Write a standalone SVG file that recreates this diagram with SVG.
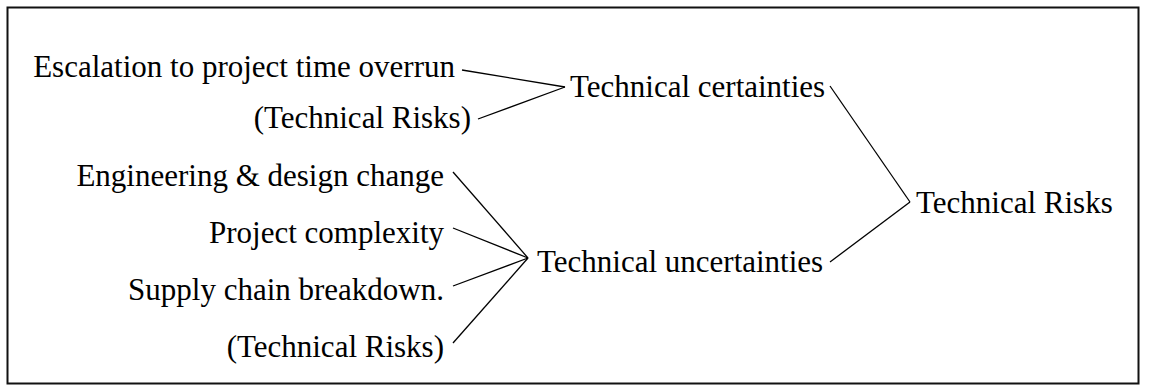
<svg xmlns="http://www.w3.org/2000/svg" width="1156" height="392" viewBox="0 0 1156 392">
  <style>
    text { font-family: 'Liberation Serif', 'Times New Roman', 'DejaVu Serif', serif; font-size: 31px; fill: #000; }
    .end { text-anchor: end; }
    .conn line { stroke: #000; stroke-width: 1.3; fill: none; }
  </style>
  <rect x="0" y="0" width="1156" height="392" fill="#fff"/>
  <!-- frame -->
  <rect x="7.5" y="7.5" width="1131" height="376" fill="none" stroke="#111" stroke-width="2"/>

  <!-- connectors -->
  <g id="connectors" class="conn">
    <line x1="462" y1="70" x2="565" y2="87"/>
    <line x1="478" y1="119" x2="565" y2="87"/>
    <line x1="453" y1="172" x2="528" y2="258"/>
    <line x1="453" y1="228" x2="528" y2="258"/>
    <line x1="453" y1="286" x2="528" y2="258"/>
    <line x1="453" y1="343" x2="528" y2="258"/>
    <line x1="830" y1="86" x2="910" y2="202"/>
    <line x1="830" y1="262" x2="910" y2="202"/>
  </g>

  <g id="escalation"><text class="end" x="455" y="77" font-family="Liberation Serif">Escalation to project time overrun</text></g>
  <g id="risks-certain"><text class="end" x="471" y="128" font-family="Liberation Serif">(Technical Risks)</text></g>
  <g id="engineering"><text class="end" x="444" y="186" font-family="Liberation Serif">Engineering &amp; design change</text></g>
  <g id="complexity"><text class="end" x="444" y="243" font-family="Liberation Serif">Project complexity</text></g>
  <g id="supply"><text class="end" x="444" y="300" font-family="Liberation Serif">Supply chain breakdown.</text></g>
  <g id="risks-uncertain"><text class="end" x="444" y="357" font-family="Liberation Serif">(Technical Risks)</text></g>
  <g id="certainties"><text x="570" y="97" font-family="Liberation Serif">Technical certainties</text></g>
  <g id="uncertainties"><text x="537" y="272" font-family="Liberation Serif">Technical uncertainties</text></g>
  <g id="technical-risks"><text x="916" y="213" font-family="Liberation Serif">Technical Risks</text></g>
</svg>
